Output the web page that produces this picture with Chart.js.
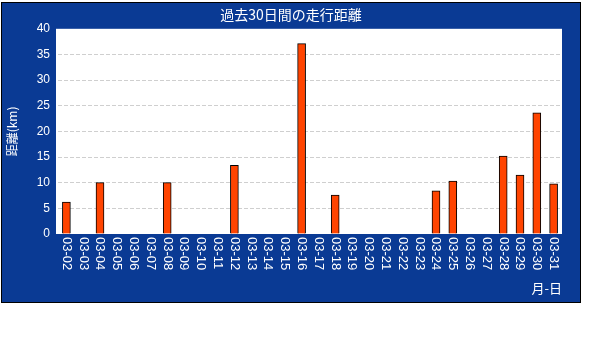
<!DOCTYPE html>
<html>
<head>
<meta charset="utf-8">
<script src="https://cdn.jsdelivr.net/npm/chart.js@4/dist/chart.umd.min.js"></script>
<style>
  body { margin: 0; background: #fff; width: 614px; height: 360px; position: relative; }
  #panel { position: absolute; left: 1px; top: 2px; width: 578px; height: 299px; border: 1px solid #000; background: #0a3a94; }
  #chart { display: block; }
</style>
</head>
<body>
<div id="panel"><canvas id="chart" width="578" height="299"></canvas></div>
<script>
var days = ['03-02','03-03','03-04','03-05','03-06','03-07','03-08','03-09','03-10','03-11',
            '03-12','03-13','03-14','03-15','03-16','03-17','03-18','03-19','03-20','03-21',
            '03-22','03-23','03-24','03-25','03-26','03-27','03-28','03-29','03-30','03-31'];
var distance = [6.2, 0, 10, 0, 0, 0, 10, 0, 0, 0,
                13.4, 0, 0, 0, 37.1, 0, 7.6, 0, 0, 0,
                0, 0, 8.4, 10.3, 0, 0, 15.2, 11.5, 23.6, 9.8];
var yTicks = [0, 5, 10, 15, 20, 25, 30, 35, 40];

var fontJa = '"Noto Sans CJK JP", "Liberation Sans", sans-serif';

// white plot area under the grid, a bit wider on the left like the original
var whiteUnder = {
    id: 'whiteUnder',
    beforeDraw: function (chart) {
        var a = chart.chartArea, ctx = chart.ctx;
        if (!a) return;
        ctx.save();
        ctx.fillStyle = '#ffffff';
        ctx.fillRect(a.left - 2, a.top, a.right - a.left + 2, a.bottom - a.top);
        ctx.restore();
    }
};

// day labels read top-to-bottom, so draw them turned clockwise
var dayLabels = {
    id: 'dayLabels',
    afterDraw: function (chart) {
        var xs = chart.scales.x, ctx = chart.ctx;
        ctx.save();
        ctx.fillStyle = '#ffffff';
        ctx.font = '13px "Liberation Sans", sans-serif';
        ctx.textAlign = 'left';
        ctx.textBaseline = 'middle';
        for (var i = 0; i < days.length; i++) {
            ctx.save();
            ctx.translate(xs.getPixelForTick(i), xs.top + 3);
            ctx.rotate(Math.PI / 2);
            ctx.fillText(days[i], 0, 0);
            ctx.restore();
        }
        ctx.restore();
    }
};

new Chart(document.getElementById('chart'), {
    type: 'bar',
    data: {
        labels: days,
        datasets: [{
            label: '距離',
            data: distance,
            backgroundColor: '#ff4400',
            borderColor: '#000000',
            borderWidth: 1,
            borderSkipped: 'bottom',
            barThickness: 8
        }]
    },
    options: {
        responsive: false,
        animation: false,
        layout: { padding: 0 },
        plugins: {
            legend: { display: false },
            tooltip: { enabled: false },
            title: {
                display: true,
                text: '過去30日間の走行距離',
                color: '#ffffff',
                font: { family: fontJa, size: 14, weight: 'normal', lineHeight: 1.2 },
                padding: { top: 3, bottom: 6 }
            }
        },
        scales: {
            x: {
                offset: true,
                grid: { display: false, drawTicks: false },
                border: { display: false },
                ticks: { display: false },
                title: {
                    display: true,
                    text: '月-日',
                    align: 'end',
                    color: '#ffffff',
                    font: { family: fontJa, size: 13 },
                    padding: { top: 0, bottom: 6 }
                },
                afterFit: function (scale) { scale.height = 68; }
            },
            y: {
                min: 0,
                max: 40,
                afterBuildTicks: function (scale) {
                    scale.ticks = yTicks.map(function (v) { return { value: v }; });
                },
                grid: {
                    color: function (c) {
                        var v = c.tick && c.tick.value;
                        return (v === 0 || v === 40) ? 'rgba(0,0,0,0)' : '#cfcfcf';
                    },
                    drawTicks: false
                },
                border: { display: false, dash: [4, 2] },
                ticks: {
                    color: '#ffffff',
                    padding: 8,
                    font: { family: '"Liberation Sans", sans-serif', size: 12 }
                },
                title: {
                    display: true,
                    text: '距離(km)',
                    color: '#ffffff',
                    font: { family: fontJa, size: 12 },
                    padding: { top: 3, bottom: 0 }
                },
                afterFit: function (scale) { scale.width = 56; }
            },
            // empty right-hand margin, keeps the title centred on the panel
            yRight: {
                position: 'right',
                min: 0,
                max: 40,
                grid: { display: false, drawTicks: false },
                border: { display: false },
                ticks: { display: false },
                afterFit: function (scale) { scale.width = 18; }
            }
        }
    },
    plugins: [whiteUnder, dayLabels]
});
</script>
</body>
</html>
